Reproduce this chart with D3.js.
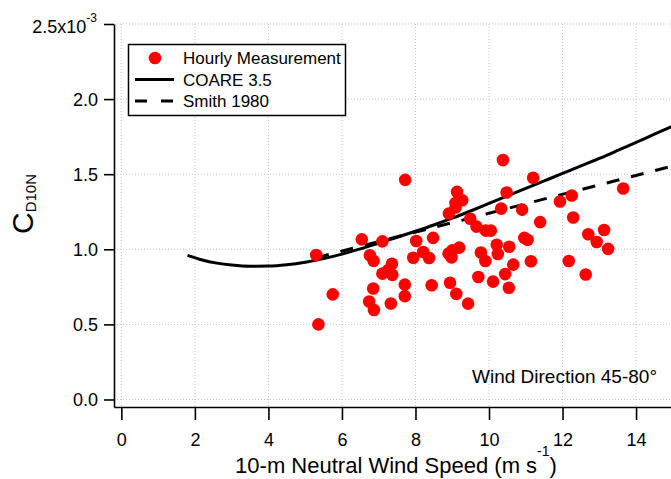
<!DOCTYPE html>
<html>
<head>
<meta charset="utf-8">
<script src="https://cdn.jsdelivr.net/npm/d3@7/dist/d3.min.js"></script>
<style>
  html, body { margin: 0; padding: 0; background: #ffffff; }
  svg { display: block; font-family: "Liberation Sans", Arial, sans-serif; }
</style>
</head>
<body>
<svg id="chart" width="671" height="479"></svg>
<script>
// Axis ticks
const xTicks = [0, 2, 4, 6, 8, 10, 12, 14];
const yTicks = [0, 0.5, 1.0, 1.5, 2.0, 2.5];

// Hourly measurements: 10-m neutral wind speed (m/s) and C_D10N (x10^-3)
const windSpeed = [
  5.30, 5.36, 5.75, 6.54, 6.76, 6.86, 7.10, 6.85, 6.74, 6.87,
  7.33, 7.10, 7.26, 7.36, 7.37, 7.72, 7.71, 7.71, 7.94, 8.02,
  8.21, 8.37, 8.48, 8.44, 8.91, 9.09, 9.09, 9.13, 9.27, 8.90,
  9.00, 8.98, 9.19, 8.94, 9.11, 9.43, 9.49, 9.66, 9.91, 10.05,
  9.78, 9.90, 9.71, 10.38, 11.20, 10.48, 10.33, 10.90, 11.39, 10.96,
  11.05, 10.21, 10.55, 10.24, 10.66, 11.14, 10.44, 10.11, 10.54, 11.93,
  12.25, 12.29, 13.65, 12.70, 13.13, 12.93, 13.24, 12.17, 12.63
];
const dragCoef = [
  0.962, 0.500, 0.700, 1.066, 0.960, 0.923, 1.053, 0.739, 0.652, 0.596,
  0.639, 0.838, 0.862, 0.904, 0.830, 1.462, 0.765, 0.688, 0.944, 1.055,
  0.982, 0.942, 1.076, 0.761, 1.238, 1.278, 1.308, 1.382, 1.327, 0.971,
  0.993, 0.946, 1.011, 0.777, 0.703, 0.638, 1.203, 1.151, 1.124, 1.124,
  0.979, 0.922, 0.816, 1.594, 1.476, 1.378, 1.271, 1.264, 1.181, 1.076,
  1.064, 1.030, 1.017, 0.969, 0.898, 0.920, 0.835, 0.785, 0.744, 1.318,
  1.358, 1.212, 1.405, 1.100, 1.128, 1.049, 1.003, 0.922, 0.832
];

// COARE 3.5 neutral drag coefficient curve (x10^-3)
const coareU  = [1.8, 2.2, 2.6, 3.0, 3.5, 4.0, 4.5, 5.0, 5.5, 6.0, 6.5, 7.0, 7.5, 8.0,
                 8.5, 9.0, 9.5, 10.0, 10.5, 11.0, 11.5, 12.0, 12.5, 13.0, 13.5, 14.0, 14.5, 15.0];
const coareCd = [0.960, 0.929, 0.908, 0.895, 0.887, 0.888, 0.897, 0.914, 0.938, 0.968, 1.003, 1.041, 1.080, 1.120,
                 1.162, 1.207, 1.255, 1.305, 1.355, 1.405, 1.455, 1.505, 1.555, 1.605, 1.658, 1.712, 1.766, 1.820];

// Smith (1980) relation (x10^-3)
const smithU  = [5.3, 10.0, 15.0];
const smithCd = [0.944, 1.240, 1.555];

const legendLabels = ["Hourly Measurement", "COARE 3.5", "Smith 1980"];

const svg = d3.select("#chart");
const plotL = 114, plotR = 671, plotT = 24, plotB = 407;

const x = d3.scaleLinear().domain([-0.2, 14.95]).range([plotL, plotR]);
const y = d3.scaleLinear().domain([-0.05, 2.5]).range([plotB, plotT]);

const gridColor = "#c4c4f6";

// Grid
const grid = svg.append("g");
grid.selectAll("line.gx").data(xTicks).join("line")
  .attr("x1", d => x(d)).attr("x2", d => x(d))
  .attr("y1", plotT).attr("y2", plotB)
  .attr("stroke", gridColor).attr("stroke-width", 1)
  .attr("stroke-dasharray", "1,2");
grid.selectAll("line.gy").data(yTicks).join("line")
  .attr("x1", plotL).attr("x2", plotR)
  .attr("y1", d => y(d)).attr("y2", d => y(d))
  .attr("stroke", gridColor).attr("stroke-width", 1)
  .attr("stroke-dasharray", "1,2");

// Clip for marks
svg.append("clipPath").attr("id", "plotClip")
  .append("rect").attr("x", plotL).attr("y", 0).attr("width", plotR - plotL).attr("height", plotB);

const marks = svg.append("g").attr("clip-path", "url(#plotClip)");

// Curves
const coareLine = d3.line().x(d => x(d[0])).y(d => y(d[1])).curve(d3.curveMonotoneX);
marks.append("path")
  .datum(coareU.map((u, i) => [u, coareCd[i]]))
  .attr("d", coareLine)
  .attr("fill", "none").attr("stroke", "#000").attr("stroke-width", 3);

const smithLine = d3.line().x(d => x(d[0])).y(d => y(d[1]));
marks.append("path")
  .datum(smithU.map((u, i) => [u, smithCd[i]]))
  .attr("d", smithLine)
  .attr("fill", "none").attr("stroke", "#000").attr("stroke-width", 3)
  .attr("stroke-dasharray", "13,12");

// Measurements
marks.selectAll("circle.pt").data(windSpeed.map((u, i) => [u, dragCoef[i]])).join("circle")
  .attr("cx", d => x(d[0])).attr("cy", d => y(d[1])).attr("r", 6.3)
  .attr("fill", "#ff0000");

// Axes
const fmt = d3.format(".1f");
const yAxis = svg.append("g").attr("transform", `translate(${plotL},0)`)
  .call(d3.axisLeft(y).tickValues(yTicks).tickSize(10).tickSizeOuter(0).tickPadding(6)
    .tickFormat(d => d === 2.5 ? "" : fmt(d)));
const xAxis = svg.append("g").attr("transform", `translate(0,${plotB})`)
  .call(d3.axisBottom(x).tickValues(xTicks).tickSize(13).tickSizeOuter(0).tickPadding(12)
    .tickFormat(d3.format("d")));

[xAxis, yAxis].forEach(g => {
  g.select(".domain").attr("stroke", "#000").attr("stroke-width", 1.6);
  g.selectAll(".tick line").attr("stroke", "#000").attr("stroke-width", 1.6);
  g.selectAll(".tick text").attr("fill", "#000").style("font-size", "18px")
    .style("font-family", "'Liberation Sans', Arial, sans-serif");
});
yAxis.selectAll(".tick text").attr("dy", "0.36em").attr("x", -16);
xAxis.selectAll(".tick text").attr("dy", "0").attr("y", 39);

// Top tick label with exponent
const topLab = svg.append("text").attr("x", 97).attr("y", 33)
  .attr("text-anchor", "end").style("font-size", "18px").attr("fill", "#000");
topLab.append("tspan").text("2.5x10");
topLab.append("tspan").attr("dy", -11).style("font-size", "12px").text("-3");

// Axis titles
const xt = svg.append("text").attr("x", 396).attr("y", 473)
  .attr("text-anchor", "middle").style("font-size", "22px").attr("fill", "#000");
xt.append("tspan").text("10-m Neutral Wind Speed (m s");
xt.append("tspan").attr("dy", -17).style("font-size", "14px").text("-1");
xt.append("tspan").attr("dy", 17).text(")");

const yt = svg.append("text").attr("transform", "translate(33,204) rotate(-90)")
  .attr("text-anchor", "middle").attr("fill", "#000").style("font-size", "30px");
yt.append("tspan").text("C");
yt.append("tspan").attr("dy", 3).style("font-size", "15px").text("D10N");

// Annotation
svg.append("text").attr("x", 657).attr("y", 383).attr("text-anchor", "end")
  .style("font-size", "19px").attr("fill", "#000").text("Wind Direction 45-80°");

// Legend
const lg = svg.append("g");
lg.append("rect").attr("x", 128.5).attr("y", 44.5).attr("width", 217).attr("height", 71)
  .attr("fill", "#fff").attr("stroke", "#000").attr("stroke-width", 1.5);
const rows = [58, 79.5, 101];
lg.append("circle").attr("cx", 155).attr("cy", rows[0]).attr("r", 6.3).attr("fill", "#ff0000");
lg.append("line").attr("x1", 135).attr("x2", 174).attr("y1", rows[1]).attr("y2", rows[1])
  .attr("stroke", "#000").attr("stroke-width", 3);
lg.append("line").attr("x1", 135).attr("x2", 174).attr("y1", rows[2]).attr("y2", rows[2])
  .attr("stroke", "#000").attr("stroke-width", 3).attr("stroke-dasharray", "12,14");
lg.selectAll("text.lab").data(legendLabels).join("text")
  .attr("x", 183).attr("y", (d, i) => rows[i] + 6.2)
  .style("font-size", "17px").attr("fill", "#000").text(d => d);
</script>
</body>
</html>
